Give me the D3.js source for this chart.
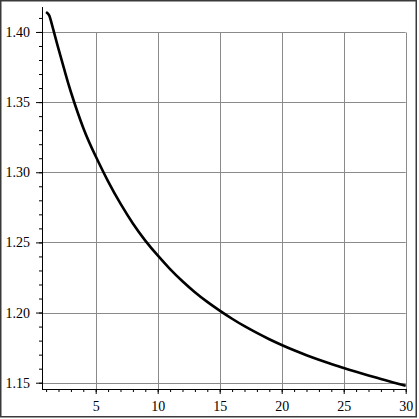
<!DOCTYPE html>
<html>
<head>
<meta charset="utf-8">
<script src="https://cdn.jsdelivr.net/npm/d3@7"></script>
<style>
body{ margin:0; background:#fff; }
</style>
</head>
<body>
<div id="chart"></div>
<script>
//Values
var xValues = [1, 1.25, 1.5, 2, 2.5, 3, 4, 5, 6, 7, 8, 9, 10, 11, 12, 13, 14, 15, 16, 17, 18, 19, 20, 21, 22, 23, 24, 25, 26, 27, 28, 29, 30];
var yValues = [1.4142, 1.4118, 1.4043, 1.3880, 1.3722, 1.3572, 1.3316, 1.3114, 1.2935, 1.2776, 1.2635, 1.2513, 1.2407,
    1.2310, 1.2223, 1.2145, 1.2076, 1.2014, 1.1956, 1.1903, 1.1855, 1.1810, 1.1769,
    1.1731, 1.1696, 1.1664, 1.1634, 1.1605, 1.1578, 1.1552, 1.1527, 1.1502, 1.1478];

var xTicks = [5, 10, 15, 20, 25, 30];
var yTicks = [1.15, 1.20, 1.25, 1.30, 1.35, 1.40];
var xMinorTicks = d3.range(1, 31);
var yMinorTicks = d3.range(115, 142).map(function(d){ return d/100; });

var width = 419;
var height = 419;
var fontFamily = "'Liberation Serif', 'Times New Roman', Times, serif";

var x = d3.scaleLinear().domain([0.67, 30]).range([42, 405.7]);
var y = d3.scaleLinear().domain([1.1453, 1.418]).range([389.3, 6.7]);

var svg = d3.select("#chart")
    .append("svg")
    .attr("width", width)
    .attr("height", height);

//Outer frame
svg.append("rect")
    .attr("x", 0.75)
    .attr("y", 0.75)
    .attr("width", 415.5)
    .attr("height", 416)
    .attr("fill", "none")
    .attr("stroke", "#3a3a3a")
    .attr("stroke-width", 1.5);

//Grid lines
var grid = svg.append("g").attr("stroke", "#8a8a8a").attr("stroke-width", 1);
grid.selectAll("line.h")
    .data(yTicks)
    .enter()
    .append("line")
    .attr("class", "h")
    .attr("x1", x.range()[0])
    .attr("x2", x(30))
    .attr("y1", function(d){ return Math.round(y(d)) + 0.5; })
    .attr("y2", function(d){ return Math.round(y(d)) + 0.5; });
grid.selectAll("line.v")
    .data(xTicks)
    .enter()
    .append("line")
    .attr("class", "v")
    .attr("x1", function(d){ return Math.round(x(d)) + 0.5; })
    .attr("x2", function(d){ return Math.round(x(d)) + 0.5; })
    .attr("y1", Math.round(y(1.40)) + 0.5)
    .attr("y2", y.range()[0]);

//X axis: minor ticks then major ticks with labels
var xAxisG = svg.append("g").attr("transform", "translate(0," + Math.round(y.range()[0]) + ")");
xAxisG.call(d3.axisBottom(x).tickValues(xMinorTicks).tickSize(3).tickFormat("").tickSizeOuter(0));
xAxisG.append("g").call(d3.axisBottom(x).tickValues(xTicks).tickSize(5).tickPadding(7).tickFormat(d3.format("d")).tickSizeOuter(0));

//Y axis
var yAxisG = svg.append("g").attr("transform", "translate(" + x.range()[0] + ",0)");
yAxisG.call(d3.axisLeft(y).tickValues(yMinorTicks).tickSize(3).tickFormat("").tickSizeOuter(0));
yAxisG.append("g").call(d3.axisLeft(y).tickValues(yTicks).tickSize(6).tickPadding(6).tickFormat(d3.format(".2f")).tickSizeOuter(0));

svg.selectAll(".domain").attr("stroke", "#000");
svg.selectAll(".tick line").attr("stroke", "#000");
svg.selectAll("g").attr("font-family", fontFamily).attr("font-size", 14);
svg.selectAll(".tick text")
    .style("font-family", fontFamily)
    .style("font-size", "14px")
    .attr("fill", "#000");

//The curve
var points = xValues.map(function(d, i){ return [d, yValues[i]]; });
var line = d3.line()
    .x(function(d){ return x(d[0]); })
    .y(function(d){ return y(d[1]); })
    .curve(d3.curveNatural);

svg.append("path")
    .datum(points)
    .attr("d", line)
    .attr("fill", "none")
    .attr("stroke", "#000")
    .attr("stroke-width", 2.6)
    .attr("stroke-linejoin", "round");
</script>
</body>
</html>
